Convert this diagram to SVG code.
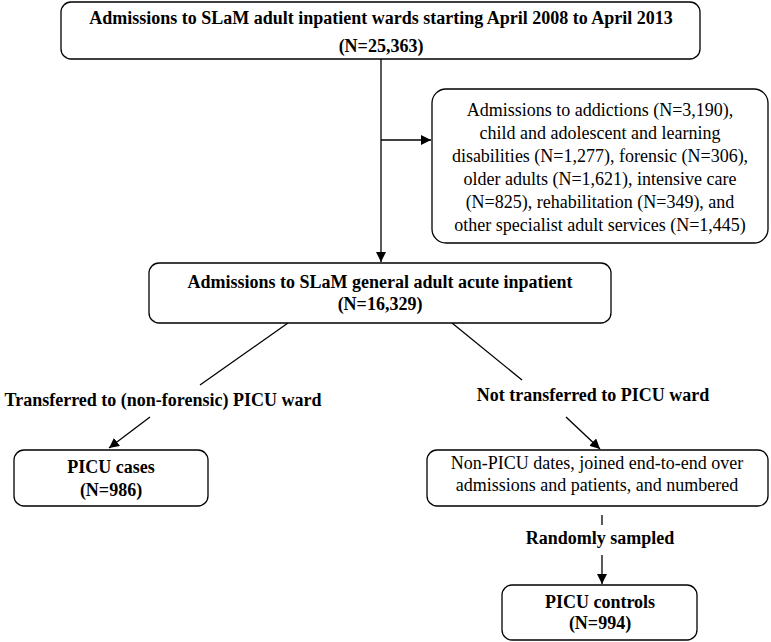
<svg xmlns="http://www.w3.org/2000/svg" width="771" height="642" viewBox="0 0 771 642">
<defs>
<marker id="ah" viewBox="0 0 10 10" refX="10" refY="5" markerWidth="10" markerHeight="10" markerUnits="userSpaceOnUse" orient="auto">
<path d="M0,0 L10,5 L0,10 z" fill="#000"/>
</marker>
<style>
.box{fill:#fff;stroke:#000;stroke-width:1.3}
.c{fill:none;stroke:#000;stroke-width:1.3}
text{font-family:"Liberation Serif","DejaVu Serif",serif;font-size:18px;fill:#000;text-anchor:middle}
.b{font-weight:bold}
</style>
</defs>
<rect width="771" height="642" fill="#fff"/>
<g id="connectors">
<line class="c" x1="381" y1="59" x2="381" y2="262" marker-end="url(#ah)"/>
<line class="c" x1="381" y1="140" x2="431" y2="140" marker-end="url(#ah)"/>
<line class="c" x1="288" y1="323" x2="200" y2="385"/>
<line class="c" x1="452" y1="323" x2="522" y2="380"/>
<line class="c" x1="150" y1="417" x2="109" y2="448" marker-end="url(#ah)"/>
<line class="c" x1="566" y1="417" x2="600" y2="449" marker-end="url(#ah)"/>
<line class="c" x1="602" y1="515" x2="602" y2="525"/>
<line class="c" x1="602" y1="555" x2="602" y2="584" marker-end="url(#ah)"/>
<text class="b" x="163" y="406">Transferred to (non-forensic) PICU ward</text>
<text class="b" x="593" y="401">Not transferred to PICU ward</text>
<text class="b" x="600" y="544">Randomly sampled</text>
</g>
<g id="n1">
<rect class="box" x="61" y="2" width="639" height="57" rx="10"/>
<text class="b" x="381" y="24">Admissions to SLaM adult inpatient wards starting April 2008 to April 2013</text>
<text class="b" x="381" y="52">(N=25,363)</text>
</g>
<g id="n2">
<rect class="box" x="432" y="89" width="336" height="154" rx="14"/>
<text x="600" y="116">Admissions to addictions (N=3,190),</text>
<text x="600" y="139">child and adolescent and learning</text>
<text x="600" y="162">disabilities (N=1,277), forensic (N=306),</text>
<text x="600" y="185">older adults (N=1,621), intensive care</text>
<text x="600" y="208">(N=825), rehabilitation (N=349), and</text>
<text x="600" y="231">other specialist adult services (N=1,445)</text>
</g>
<g id="n3">
<rect class="box" x="149" y="263" width="462" height="60" rx="10"/>
<text class="b" x="380" y="288">Admissions to SLaM general adult acute inpatient</text>
<text class="b" x="380" y="310">(N=16,329)</text>
</g>
<g id="n4">
<rect class="box" x="14" y="450" width="194" height="56" rx="10"/>
<text class="b" x="111" y="473">PICU cases</text>
<text class="b" x="111" y="496">(N=986)</text>
</g>
<g id="n5">
<rect class="box" x="427" y="450" width="341" height="56" rx="10"/>
<text x="597" y="469">Non-PICU dates, joined end-to-end over</text>
<text x="597" y="491">admissions and patients, and numbered</text>
</g>
<g id="n6">
<rect class="box" x="502" y="585" width="195" height="55" rx="10"/>
<text class="b" x="600" y="608">PICU controls</text>
<text class="b" x="600" y="629">(N=994)</text>
</g>
</svg>
